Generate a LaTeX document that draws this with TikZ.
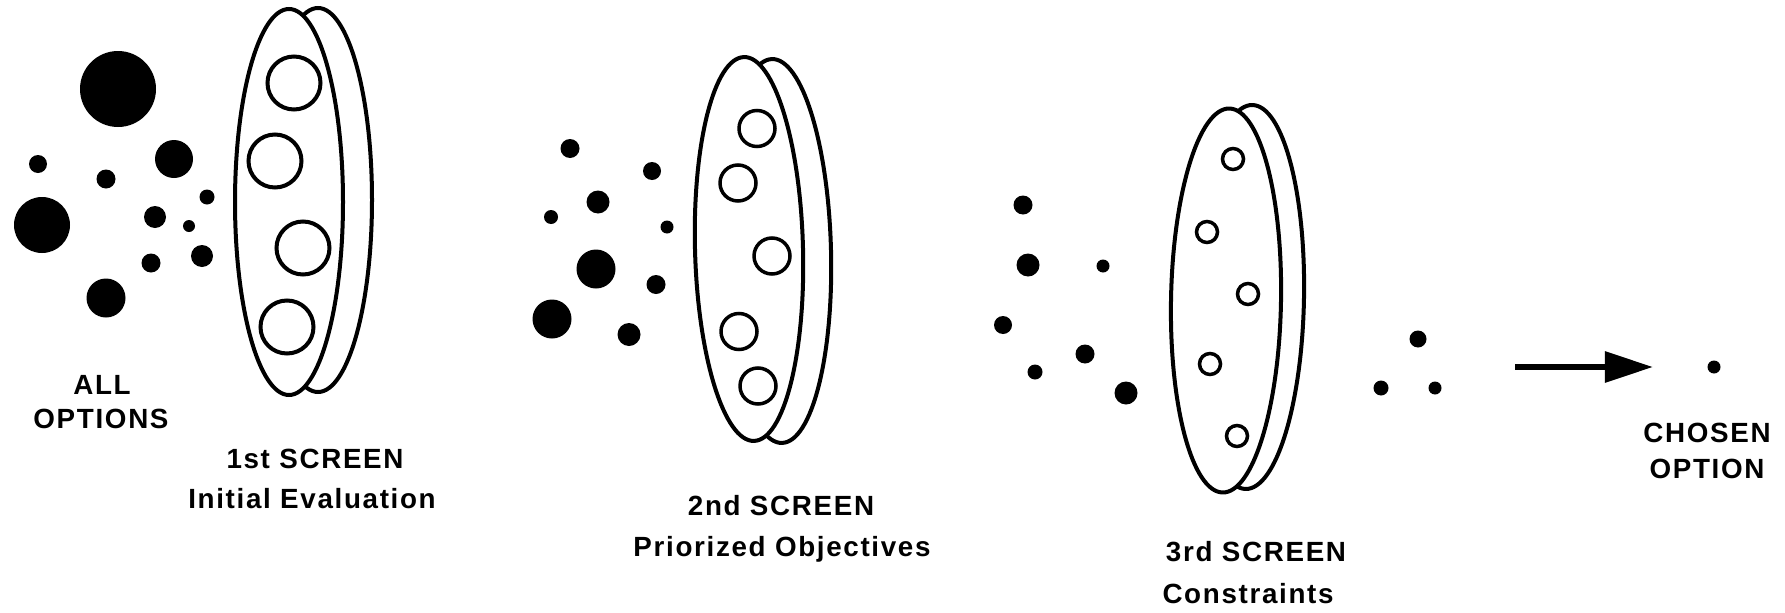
\documentclass[tikz,border=0pt]{standalone}
\usepackage{fontspec}
\newfontfamily\lblfam{Liberation Sans}[LetterSpace=6]
\usetikzlibrary{shapes.geometric,arrows.meta}
\begin{document}
\begin{tikzpicture}[x=0.01cm,y=-0.01cm,
  fdot/.style={circle,fill=black,inner sep=0pt,minimum size=#1*0.01cm},
  odot/.style={circle,draw=black,fill=white,line width=0.035cm,inner sep=0pt,minimum size=#1*0.01cm},
  odotb/.style={circle,draw=black,fill=white,line width=0.04cm,inner sep=0pt,minimum size=#1*0.01cm},
  disc/.style={ellipse,draw=black,fill=white,line width=0.04cm,inner sep=0pt,
     minimum width=#1},
  lbl/.style={font=\lblfam\bfseries\fontsize{7.9}{9}\selectfont,anchor=base,inner sep=0pt}]
\useasboundingbox (0,0) rectangle (1785,612);
% ---------- all options ----------
\node[fdot=76] (o1) at (118,89) {};
\node[fdot=18] (o2) at (38,164) {};
\node[fdot=19] (o3) at (106,179) {};
\node[fdot=38] (o4) at (174,159) {};
\node[fdot=56] (o5) at (42,225) {};
\node[fdot=22] (o6) at (155,217) {};
\node[fdot=15] (o7) at (207,197) {};
\node[fdot=12] (o8) at (189,226) {};
\node[fdot=22] (o9) at (202,256) {};
\node[fdot=19] (o10) at (151,263) {};
\node[fdot=39] (o11) at (106,298) {};
\node[lbl] (t1a) at (102,394) {ALL};
\node[lbl] (t1b) at (101,428) {OPTIONS};
% ---------- 1st screen ----------
\node[disc=108*0.01cm,minimum height=384*0.01cm] (s1b) at (318,200) {};
\node[disc=108*0.01cm,minimum height=386*0.01cm] (s1f) at (289,202) {};
\node[odotb=53] (c11) at (294,83) {};
\node[odotb=53] (c12) at (275,161) {};
\node[odotb=53] (c13) at (303,248) {};
\node[odotb=53] (c14) at (287,327) {};
\node[lbl] (t2a) at (315,468) {1st SCREEN};
\node[lbl] (t2b) at (312,508) {Initial Evaluation};
% ---------- after 1st screen ----------
\node[fdot=19] (p1) at (570,148.5) {};
\node[fdot=18] (p2) at (652,171) {};
\node[fdot=23] (p3) at (598,202) {};
\node[fdot=14] (p4) at (551,217) {};
\node[fdot=13] (p5) at (667,227) {};
\node[fdot=39] (p6) at (596,269) {};
\node[fdot=19] (p7) at (656,284.5) {};
\node[fdot=39] (p8) at (552,319) {};
\node[fdot=23] (p9) at (629,334.5) {};
% ---------- 2nd screen ----------
\node[disc=108*0.01cm,minimum height=384*0.01cm,rotate=1.5] (s2b) at (777,251) {};
\node[disc=108*0.01cm,minimum height=384*0.01cm,rotate=1.5] (s2f) at (749,249) {};
\node[odot=36] (c21) at (757,128.5) {};
\node[odot=36] (c22) at (738,183) {};
\node[odot=36] (c23) at (772,256) {};
\node[odot=36] (c24) at (739,331.5) {};
\node[odot=36] (c25) at (758,386) {};
\node[lbl] (t3a) at (781,515) {2nd SCREEN};
\node[lbl] (t3b) at (782,556) {Priorized Objectives};
% ---------- after 2nd screen ----------
\node[fdot=19] (q1) at (1023,205) {};
\node[fdot=23] (q2) at (1028,265) {};
\node[fdot=13] (q3) at (1103,266) {};
\node[fdot=18] (q4) at (1003,325) {};
\node[fdot=19] (q5) at (1085,354) {};
\node[fdot=15] (q6) at (1035,372) {};
\node[fdot=23] (q7) at (1126,393) {};
% ---------- 3rd screen ----------
\node[disc=110*0.01cm,minimum height=384*0.01cm,rotate=-1] (s3b) at (1249,297) {};
\node[disc=110*0.01cm,minimum height=384*0.01cm,rotate=-1] (s3f) at (1226,300.5) {};
\node[odot=21] (c31) at (1233,159) {};
\node[odot=21] (c32) at (1207,232) {};
\node[odot=21] (c33) at (1248,294) {};
\node[odot=21] (c34) at (1210,364) {};
\node[odot=21] (c35) at (1237,436) {};
\node[lbl] (t4a) at (1256,561) {3rd SCREEN};
\node[lbl] (t4b) at (1248,603) {Constraints};
% ---------- after 3rd screen ----------
\node[fdot=17] (r1) at (1418,339) {};
\node[fdot=15] (r2) at (1381,388) {};
\node[fdot=13] (r3) at (1435,388) {};
\coordinate (a1) at (1515,367);
\coordinate (a2) at (1653,367);
\draw[line width=0.06cm,-{Triangle[length=0.48cm,width=0.30cm]}] (a1) -- (a2);
\node[fdot=13] (ch) at (1714,367) {};
\node[lbl] (t5a) at (1707,442) {CHOSEN};
\node[lbl] (t5b) at (1707,478) {OPTION};
\end{tikzpicture}
\end{document}
